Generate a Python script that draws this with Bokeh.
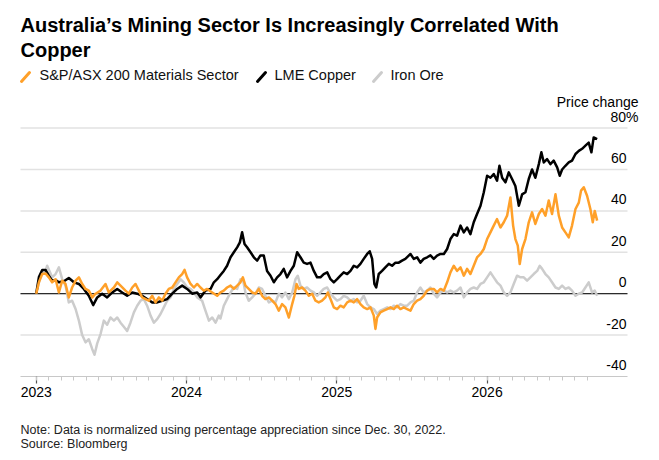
from bokeh.plotting import figure
from bokeh.models import Range1d, FixedTicker, Label, Arrow, PrintfTickFormatter, LinearAxis
from bokeh.embed import file_html
from bokeh.resources import INLINE

# ---------------- data (decimal year, % change since Dec 30, 2022) ----------------
copper_t = [2023.000, 2023.018, 2023.040, 2023.062, 2023.084, 2023.106, 2023.129, 2023.151, 2023.184,
            2023.217, 2023.251, 2023.284, 2023.317, 2023.350, 2023.379, 2023.406, 2023.439, 2023.472,
            2023.506, 2023.539, 2023.572, 2023.605, 2023.639, 2023.672, 2023.705, 2023.738, 2023.772,
            2023.805, 2023.838, 2023.871, 2023.905, 2023.938, 2023.971, 2024.004, 2024.038, 2024.071,
            2024.093, 2024.126, 2024.160, 2024.182, 2024.204, 2024.226, 2024.248, 2024.270, 2024.293,
            2024.315, 2024.337, 2024.355, 2024.370, 2024.386, 2024.403, 2024.426, 2024.448, 2024.470,
            2024.492, 2024.514, 2024.536, 2024.559, 2024.581, 2024.603, 2024.625, 2024.647, 2024.669,
            2024.692, 2024.714, 2024.736, 2024.758, 2024.780, 2024.802, 2024.825, 2024.847, 2024.869,
            2024.891, 2024.913, 2024.936, 2024.958, 2024.980, 2025.002, 2025.024, 2025.046, 2025.069,
            2025.091, 2025.113, 2025.135, 2025.157, 2025.179, 2025.202, 2025.219, 2025.235, 2025.250,
            2025.262, 2025.279, 2025.301, 2025.323, 2025.346, 2025.368, 2025.390, 2025.412, 2025.434,
            2025.456, 2025.490, 2025.512, 2025.534, 2025.556, 2025.578, 2025.601, 2025.623, 2025.645,
            2025.667, 2025.690, 2025.712, 2025.734, 2025.756, 2025.778, 2025.800, 2025.823, 2025.845,
            2025.867, 2025.889, 2025.911, 2025.933, 2025.956, 2025.978, 2026.000, 2026.022, 2026.044,
            2026.066, 2026.082, 2026.100, 2026.122, 2026.144, 2026.166, 2026.188, 2026.211, 2026.233,
            2026.255, 2026.277, 2026.299, 2026.321, 2026.344, 2026.361, 2026.377, 2026.399, 2026.421,
            2026.443, 2026.466, 2026.483, 2026.499, 2026.521, 2026.543, 2026.565, 2026.588, 2026.610,
            2026.632, 2026.654, 2026.676, 2026.694, 2026.709, 2026.732]
copper_v = [0, 8, 11.5, 11.5, 8.7, 6.3, 6.6, 5.5, 6,
            7.6, 5.5, 4.7, 2.3, -1, -5.5, -1.8, 0, -1.8,
            0.6, 2.3, 0.6, -1, 0.6, 0, -1, -2.6, -4.2,
            -4.2, -3.4, -2.6, 0, 2.3, 3.9, 2.3, 0, 0.6,
            -1.8, 1.5, 2.3, 5.5, 7, 9, 11, 13.5, 17.6,
            20, 22.4, 24.8, 29.7, 24, 22.4, 20, 17.6, 16,
            18.5, 18.5, 11, 8.7, 5.5, 7.9, 9.5, 12, 7.9,
            11, 13.5, 20, 17.6, 15, 14.4, 15, 11, 7.9,
            7.9, 9.5, 10.3, 7, 5.5, 7, 8.7, 10.3, 9.5,
            11, 13.5, 12.7, 14.4, 16.8, 19.2, 20.5, 16.8, 4.7,
            3, 9.5, 11, 12.7, 14.4, 13.5, 15, 15, 16,
            16.8, 19.2, 16.8, 17.6, 15, 16.8, 17.6, 18.5, 16.8,
            18.4, 19.2, 19.2, 21.6, 26.4, 28.8, 28, 32.9, 29.6,
            32, 28.8, 34.5, 38.5, 42.5, 49, 57, 56, 57.8,
            54.6, 61.8, 56, 53.8, 58.6, 55.4, 52, 42.5, 48,
            49, 55.4, 60, 56, 62.6, 68.3, 63.4, 65, 62.6,
            64.3, 61, 57, 60, 61.8, 63.4, 64.3, 67.5, 69,
            70, 71.5, 73, 68.3, 75.5, 74.7]

materials_t = [2023.000, 2023.018, 2023.040, 2023.062, 2023.084, 2023.106, 2023.129, 2023.151, 2023.173,
               2023.195, 2023.217, 2023.239, 2023.262, 2023.284, 2023.306, 2023.328, 2023.350, 2023.373,
               2023.395, 2023.428, 2023.461, 2023.483, 2023.517, 2023.539, 2023.561, 2023.594, 2023.616,
               2023.639, 2023.661, 2023.683, 2023.705, 2023.727, 2023.749, 2023.772, 2023.794, 2023.816,
               2023.838, 2023.860, 2023.882, 2023.905, 2023.927, 2023.949, 2023.971, 2023.987, 2024.004,
               2024.027, 2024.049, 2024.071, 2024.093, 2024.115, 2024.137, 2024.171, 2024.204, 2024.226,
               2024.248, 2024.270, 2024.293, 2024.315, 2024.337, 2024.359, 2024.375, 2024.392, 2024.414,
               2024.437, 2024.459, 2024.481, 2024.503, 2024.525, 2024.548, 2024.570, 2024.592, 2024.614,
               2024.636, 2024.658, 2024.681, 2024.703, 2024.718, 2024.732, 2024.747, 2024.769, 2024.791,
               2024.814, 2024.836, 2024.858, 2024.880, 2024.902, 2024.924, 2024.940, 2024.958, 2024.980,
               2025.002, 2025.024, 2025.046, 2025.069, 2025.091, 2025.113, 2025.135, 2025.157, 2025.179,
               2025.202, 2025.224, 2025.246, 2025.257, 2025.268, 2025.290, 2025.312, 2025.335, 2025.357,
               2025.379, 2025.401, 2025.423, 2025.445, 2025.468, 2025.490, 2025.512, 2025.534, 2025.556,
               2025.578, 2025.601, 2025.623, 2025.645, 2025.667, 2025.690, 2025.712, 2025.734, 2025.756,
               2025.778, 2025.800, 2025.823, 2025.845, 2025.867, 2025.889, 2025.911, 2025.933, 2025.956,
               2025.978, 2026.000, 2026.022, 2026.044, 2026.066, 2026.089, 2026.111, 2026.133, 2026.155,
               2026.173, 2026.188, 2026.204, 2026.217, 2026.233, 2026.255, 2026.277, 2026.299, 2026.321,
               2026.344, 2026.366, 2026.388, 2026.410, 2026.432, 2026.455, 2026.477, 2026.499, 2026.521,
               2026.543, 2026.565, 2026.588, 2026.610, 2026.625, 2026.643, 2026.665, 2026.687, 2026.703,
               2026.716, 2026.732]
materials_v = [0, 5.5, 9.5, 9.8, 7.9, 5.5, 7, 0.6, 6.3,
               4.7, -1.8, 3, 6.3, 7.9, 4.7, 2.3, 1.5, -1.8,
               0, 1.5, 4.7, 0.6, 3, 5.5, 3.9, 1.5, 0,
               3, 4.7, 1.5, -1.8, -2.6, -3.4, -1, -4.2, -1.8,
               -3.4, 0, 2.3, 3, 5.5, 7.9, 9.5, 11.5, 7.9,
               4.7, 3, 4.7, 3, 1.5, 2.3, 0.6, -1, 0.6,
               1.5, 3, 3.9, 2.3, 3.9, 5.5, 7.9, 3.9, 2.3,
               0.6, 0, 2.3, -1, -2.6, -1.8, -3.4, -5, -8.2,
               -5, -6.6, -11.5, -5, -1, 4.7, 2.3, 3, 1.5,
               -1, 0, -3.4, -4.2, -3.4, -1.8, 0.6, -2.6, -6.6,
               -7.4, -5.8, -6.6, -4.2, -3.4, -4.2, -2.6, -5, -6.6,
               -7.4, -6.6, -10.6, -17, -11.5, -9, -8.2, -7.4, -6.6,
               -7.4, -5.8, -7.4, -6.6, -7.4, -8.2, -5, -3.4, -2.6,
               -1, 1.5, 2.3, 2.3, 0.6, 2.3, 1.5, 5.5, 10.3,
               13.5, 11, 12.7, 8.7, 12, 9.5, 13.5, 17.5, 19.2,
               21.6, 26.4, 29.6, 32.9, 36, 32, 34.5, 37.7, 46.5,
               32.9, 26.4, 23.2, 14.3, 21.6, 26.4, 34.5, 39.3, 33.7,
               38.5, 40.9, 37.7, 45, 38.5, 48, 37.7, 32, 29.6,
               27.2, 32.9, 40.9, 44, 49.8, 51.4, 47.3, 40.9, 34.5,
               40, 35.3]

iron_t = [2023.000, 2023.029, 2023.062, 2023.073, 2023.106, 2023.129, 2023.151, 2023.173, 2023.195,
          2023.217, 2023.239, 2023.262, 2023.284, 2023.306, 2023.328, 2023.350, 2023.373, 2023.388,
          2023.406, 2023.428, 2023.450, 2023.472, 2023.494, 2023.517, 2023.539, 2023.561, 2023.583,
          2023.605, 2023.627, 2023.650, 2023.672, 2023.694, 2023.716, 2023.738, 2023.761, 2023.783,
          2023.805, 2023.827, 2023.849, 2023.871, 2023.894, 2023.916, 2023.938, 2023.960, 2023.982,
          2024.004, 2024.027, 2024.049, 2024.071, 2024.104, 2024.126, 2024.149, 2024.171, 2024.193,
          2024.215, 2024.226, 2024.248, 2024.270, 2024.293, 2024.315, 2024.337, 2024.359, 2024.375,
          2024.392, 2024.414, 2024.437, 2024.459, 2024.481, 2024.503, 2024.525, 2024.548, 2024.570,
          2024.592, 2024.614, 2024.636, 2024.658, 2024.681, 2024.703, 2024.725, 2024.740, 2024.758,
          2024.780, 2024.802, 2024.825, 2024.847, 2024.869, 2024.891, 2024.913, 2024.936, 2024.958,
          2024.980, 2025.002, 2025.024, 2025.046, 2025.069, 2025.091, 2025.113, 2025.135, 2025.157,
          2025.179, 2025.202, 2025.224, 2025.246, 2025.268, 2025.290, 2025.312, 2025.335, 2025.357,
          2025.379, 2025.401, 2025.423, 2025.445, 2025.468, 2025.490, 2025.512, 2025.534, 2025.556,
          2025.578, 2025.601, 2025.623, 2025.645, 2025.667, 2025.690, 2025.712, 2025.734, 2025.756,
          2025.778, 2025.800, 2025.823, 2025.845, 2025.867, 2025.889, 2025.911, 2025.933, 2025.956,
          2025.978, 2026.000, 2026.022, 2026.044, 2026.066, 2026.089, 2026.111, 2026.133, 2026.155,
          2026.177, 2026.199, 2026.222, 2026.244, 2026.266, 2026.288, 2026.310, 2026.333, 2026.350,
          2026.366, 2026.388, 2026.410, 2026.432, 2026.455, 2026.477, 2026.499, 2026.521, 2026.543,
          2026.565, 2026.588, 2026.610, 2026.632, 2026.654, 2026.676, 2026.698, 2026.716, 2026.732]
iron_v = [0, 8.7, 11, 13.5, 7.9, 9.5, 12.7, 7, 3.9,
          -4.2, -3.4, -7.4, -13, -20, -23.5, -22, -26.8, -29.5,
          -24, -19.5, -13, -15, -11.5, -13, -11.5, -14, -16,
          -18, -14, -9, -5.8, -3.4, -2.6, -5.8, -10.6, -14,
          -12.3, -9.8, -6.6, -3.4, -1.8, 2.3, 4.7, 7, 5.5,
          3, 2.3, 0.6, -1.8, -3.4, -8.2, -13, -11.5, -14,
          -10.6, -12, -5.8, -2.6, 0.6, 3, 2.3, 7, 7,
          0.6, -3.4, -1.8, 0, 3, 2.3, -1, -4.2, -3.4,
          -4.2, 0, -1.8, 0.6, -2.6, 0.6, 7, 8.7, 3.9,
          2.3, 3, 1.5, 0.6, -1, 0.6, 2.3, 3, 0,
          -1.8, -3.4, -2.6, -1, -1.8, -3.4, -2.6, -4.2, -3.4,
          -1, -5, -6.6, -7.4, -9.8, -8.2, -7.4, -6.6, -7.4,
          -5.8, -6.6, -5, -5.8, -5.8, -4.2, -3.4, 0.6, 3,
          0.6, 1.5, 3, 0, -1.8, 0.6, 1.5, 0.6, 1.5,
          0.6, 1.5, 3, -1.8, 0.6, 2.3, 3, 2.3, 4.7,
          5.5, 7.9, 10.3, 7.9, 5.5, 3.9, 0.6, -1, 0.6,
          4.7, 8.7, 7.9, 7.9, 6.3, 7.9, 9.5, 11, 13.5,
          12, 9.5, 7.9, 5.5, 3, 2.3, 3.9, 2.3, 3,
          1.5, -1, 0, 0.6, 3, 5.5, 0.6, 1.5, -1]

series_names = ["S&P/ASX 200 Materials Sector", "LME Copper", "Iron Ore"]
series_colors = ["#ffa029", "#000000", "#cccccc"]

y_ticks = [-40, -20, 0, 20, 40, 60, 80]
x_years = [2023, 2024, 2025, 2026]
x_months = [y + m / 12 for y in range(2023, 2027) for m in range(12) if y + m / 12 <= 2026.67]
x_lo, x_hi = 2022.8955, 2026.934       # extent of the plotting area (data units)

title_lines = ["Australia\u2019s Mining Sector Is Increasingly Correlated With", "Copper"]
y_title = "Price change"
note_lines = ["Note: Data is normalized using percentage appreciation since Dec. 30, 2022.",
              "Source: Bloomberg"]

FONT = "Liberation Sans"
W, H = 659, 460
PX_PER_YEAR = 150.3
PX_PER_PCT = 2.07
PLOT_LEFT, PLOT_RIGHT, PLOT_TOP, PLOT_BOTTOM = 20, 627, 127.6, 376

# whole canvas is the frame; data area sits inside it
xr = Range1d(x_lo - PLOT_LEFT / PX_PER_YEAR, x_hi + (W - PLOT_RIGHT) / PX_PER_YEAR)
yr = Range1d(y_ticks[0] - (H - PLOT_BOTTOM) / PX_PER_PCT, y_ticks[-1] + PLOT_TOP / PX_PER_PCT)

p = figure(width=W, height=H, output_backend="svg", toolbar_location=None,
           x_range=xr, y_range=yr, x_axis_type=None, y_axis_type=None,
           min_border=0, min_border_left=0, min_border_right=0,
           min_border_top=0, min_border_bottom=0)
p.outline_line_color = None
p.background_fill_color = "white"
p.border_fill_color = "white"
p.xgrid.visible = False
p.ygrid.visible = False

# horizontal gridlines (bottom one is the axis)
grid_vals = y_ticks[1:]
p.segment(x0=[x_lo] * len(grid_vals), x1=[x_hi] * len(grid_vals), y0=grid_vals, y1=grid_vals,
          line_color="#e2e2e2", line_width=1.5)

# x axis fixed at the bottom of the data area
xa = LinearAxis(fixed_location=y_ticks[0], bounds=(x_lo, x_hi),
                ticker=FixedTicker(ticks=x_years, minor_ticks=x_months),
                formatter=PrintfTickFormatter(format="%d"))
xa.axis_line_color = "#c8c8c8"
xa.axis_line_width = 1.2
xa.major_tick_line_color = "#555555"
xa.major_tick_line_width = 1.2
xa.major_tick_in = 0
xa.major_tick_out = 7
xa.minor_tick_line_color = "#c8c8c8"
xa.minor_tick_in = 0
xa.minor_tick_out = 4
xa.major_label_standoff = 3
xa.major_label_text_font = FONT
xa.major_label_text_font_size = "14px"
xa.major_label_text_color = "#000000"
p.add_layout(xa, "below")

# zero line
p.segment(x0=[x_lo], x1=[x_hi], y0=[0], y1=[0], line_color="#000000", line_width=1)

# lines: iron ore bottom, copper, materials on top
p.line(iron_t, iron_v, line_color=series_colors[2], line_width=2.5, line_join="round")
p.line(copper_t, copper_v, line_color=series_colors[1], line_width=2.5, line_join="round")
p.line(materials_t, materials_v, line_color=series_colors[0], line_width=2.5, line_join="round")

# y tick labels above their gridlines on the right
for v in y_ticks:
    last = v == y_ticks[-1]
    p.add_layout(Label(x=638 if last else 626, x_units="screen", y=v, y_units="data",
                       y_offset=11.5, text=f"{v}%" if last else f"{v}",
                       text_align="right", text_baseline="middle",
                       text_font=FONT, text_font_size="14px", text_color="#000000"))
p.add_layout(Label(x=638, y=H - 101, x_units="screen", y_units="screen", text=y_title,
                   text_align="right", text_baseline="middle", text_font=FONT,
                   text_font_size="14px", text_color="#000000"))

# title
for i, t in enumerate(title_lines):
    p.add_layout(Label(x=PLOT_LEFT, y=H - 24.5 - 25 * i, x_units="screen", y_units="screen", text=t,
                       text_align="left", text_baseline="middle", text_font=FONT,
                       text_font_size="20px", text_font_style="bold", text_color="#000000"))

# legend
leg_text_x = [39, 274, 390]
leg_icon_x = [21, 257, 373]
for name, col, tx, ix in zip(series_names, series_colors, leg_text_x, leg_icon_x):
    p.add_layout(Arrow(end=None, x_start=ix, y_start=H - 81, x_end=ix + 8, y_end=H - 72,
                       start_units="screen", end_units="screen", line_color=col,
                       line_width=3, line_cap="round"))
    p.add_layout(Label(x=tx, y=H - 74.5, x_units="screen", y_units="screen", text=name,
                       text_align="left", text_baseline="middle", text_font=FONT,
                       text_font_size="14.5px", text_color="#111111"))

# notes
for i, t in enumerate(note_lines):
    p.add_layout(Label(x=PLOT_LEFT, y=H - 429 - 14.5 * i, x_units="screen", y_units="screen", text=t,
                       text_align="left", text_baseline="middle", text_font=FONT,
                       text_font_size="12.5px", text_color="#222222"))

open("out.html", "w").write(file_html(p, INLINE))
